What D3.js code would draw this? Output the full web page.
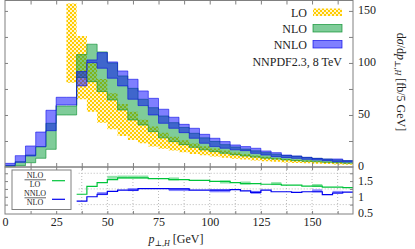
<!DOCTYPE html>
<html>
<head>
<meta charset="utf-8">
<script src="https://cdn.jsdelivr.net/npm/d3@7"></script>
<style>
  body { margin: 0; background: #fff; }
  svg { display: block; font-family: "Liberation Serif", "DejaVu Serif", serif; }
</style>
</head>
<body>
<svg id="chart" width="415" height="249"></svg>
<script>
// DATA: 5 GeV bins, lower edge of each bin
var binWidth = 5;
var binLo = [0, 5, 10, 15, 20, 25, 30, 35, 40, 45, 50, 55, 60, 65, 70, 75, 80,
             85, 90, 95, 100, 105, 110, 115, 120, 125, 130, 135, 140, 145, 150, 155, 160, 165];

// LO band (fb / 5 GeV), starts at 30 GeV
var loLow  = [null, null, null, null, null, null,
              81, 65, 53, 42.6, 36.2, 29.8, 26, 22.8, 19.8, 17.6, 15.8, 14.2, 12.6, 11.2,
              10, 9, 8, 7.1, 6.3, 5.6, 5, 4.4, 3.9, 3.5, 3.1, 2.8, 2.5, 2.2];
var loHigh = [null, null, null, null, null, null,
              157, 126, 100, 84.6, 70.9, 60.6, 53, 45.5, 39, 33, 29, 25.8, 22.6, 20,
              17.8, 15.8, 14, 12.4, 11, 9.8, 8.7, 7.8, 7, 6.3, 5.6, 5, 4.5, 4.1];

// NLO band
var nloLow  = [0.3, 1.3, 4.1, 8.4, 17, 50, 50, 86, 82, 72.5,
               64.4, 54.8, 45.2, 40.4, 34, 28, 24.4, 21.5, 18.9, 16.5,
               14.8, 13.2, 11.8, 10.6, 9.5, 8.5, 7.6, 6.8, 6.1, 5.5,
               5, 4.5, 4.1, 3.7];
var nloHigh = [1.5, 5.1, 11.5, 19.5, 42, 58.6, 58.6, 108, 118, 110.6,
               100, 87.5, 75.6, 65.1, 57, 49, 42.6, 38, 32.4, 28,
               24.5, 21.5, 19.2, 17.2, 15.5, 13.8, 12.3, 11, 10.3, 9.2,
               8.3, 7.5, 6.8, 6.1];

// NNLO band
var nnloLow  = [1.5, 4.5, 10.6, 19.5, 34.9, 59.6, 59.6, 77.9, 100.3, 94.9,
                85.3, 77.9, 65.1, 59, 50, 42, 37.2, 33, 27.6, 22.8,
                19.6, 18, 16.5, 15.7, 13.1, 11.5, 9.9, 9, 8.3, 7.4,
                6.7, 6.1, 5.1, 4.8];
var nnloHigh = [3.5, 10.9, 20.2, 33.6, 54.5, 67, 67, 91.7, 102.9, 109.9,
                101, 92.3, 84.3, 73.1, 66, 55.5, 47.8, 41, 37.2, 31.4,
                27.6, 24.4, 21.2, 19.6, 18, 15.4, 13.8, 11.5, 10.6, 9.3,
                8.3, 7.7, 7.7, 6.1];

// ratios (lower panel), from 35 GeV on
var ratioNloLo   = [null, null, null, null, null, null, null,
                    1.08, 1.33, 1.45, 1.55, 1.60, 1.60, 1.60, 1.58, 1.58, 1.55,
                    1.55, 1.52, 1.52, 1.49, 1.49, 1.45, 1.42, 1.42, 1.40, 1.40,
                    1.37, 1.37, 1.34, 1.34, 1.31, 1.31, 1.29];
var ratioNnloNlo = [null, null, null, null, null, null, null,
                    0.86, 1.0, 1.08, 1.17, 1.21, 1.21, 1.26, 1.26, 1.26, 1.25,
                    1.25, 1.21, 1.21, 1.21, 1.21, 1.23, 1.19, 1.14, 1.21, 1.16,
                    1.16, 1.14, 1.16, 1.16, 1.07, 1.12, 1.15];
// lighter shadow of the ratio lines, only in a few bins
var ratioNloLoLight   = [null, null, null, null, null, null, null,
                         null, null, null, 1.62, 1.63, 1.63, 1.63, null, null, 1.57,
                         null, null, null, null, 1.47, null, 1.44, null, null, 1.42,
                         null, null, null, 1.36, null, null, null];
var ratioNnloNloLight = [null, null, null, null, null, null, null,
                         null, null, 1.10, null, null, 1.23, null, null, null, 1.23,
                         1.23, null, null, 1.19, 1.19, null, null, 1.14, null, null,
                         null, null, null, 1.19, null, 1.14, null];

// tick labels
var xTickLabels = [0, 25, 50, 75, 100, 125, 150];
var xTickMarks = [12.5, 25, 37.5, 50, 62.5, 75, 87.5, 100, 112.5, 125, 137.5, 150, 162.5];
var yTickLabels = [0, 50, 100, 150];
var yTickMarks = [25, 50, 75, 100, 125, 150];
var rTickLabels = [0.5, 1, 1.5];
var rTickMarks = [0.75, 1, 1.25, 1.5, 1.75];
var rGrid = [0.75, 1.25, 1.75];
var xGrid = [37.5, 50, 62.5, 75, 87.5, 100, 112.5, 125, 137.5, 150, 162.5];


/*=======================================
*  scales
*=======================================*/
var svg = d3.select('#chart');
var gray = '#808080';

var x = d3.scaleLinear().domain([0, 170]).range([5, 353]);
var y = d3.scaleLinear().domain([0, 160]).range([167, 0.5]);
var yr = d3.scaleLinear().domain([0.45, 1.95]).range([214, 167]);

var defs = svg.append('defs');

// crosshatch dots for LO
var pat = defs.append('pattern').attr('id', 'hatch')
  .attr('patternUnits', 'userSpaceOnUse').attr('width', 4).attr('height', 4);
pat.append('rect').attr('width', 4).attr('height', 4).attr('fill', '#ffcc00');
pat.append('rect').attr('x', 0.1).attr('y', 0.1).attr('width', 1.8).attr('height', 1.8).attr('fill', '#fff');
pat.append('rect').attr('x', 2.1).attr('y', 2.1).attr('width', 1.8).attr('height', 1.8).attr('fill', '#fff');

defs.append('clipPath').attr('id', 'clipMain').append('rect')
  .attr('x', x(0)).attr('y', y(160)).attr('width', x(170) - x(0)).attr('height', y(0) - y(160));


// turn bin arrays into step rows (last bin repeated at the right edge)
function rows(lo, hi) {
  var out = [];
  binLo.forEach(function(b, i) {
    if (lo[i] == null) return;
    out.push({ x: b, lo: lo[i], hi: hi ? hi[i] : lo[i] });
  });
  var last = out[out.length - 1];
  out.push({ x: last.x + binWidth, lo: last.lo, hi: last.hi });
  return out;
}


/*=======================================
*  main panel: bands
*=======================================*/
var main = svg.append('g').attr('clip-path', 'url(#clipMain)');

var area = d3.area()
  .x(function(d) { return x(d.x); })
  .y0(function(d) { return y(d.lo); })
  .y1(function(d) { return y(d.hi); })
  .curve(d3.curveStepAfter);

var edgeHi = d3.line().x(function(d) { return x(d.x); }).y(function(d) { return y(d.hi); }).curve(d3.curveStepAfter);
var edgeLo = d3.line().x(function(d) { return x(d.x); }).y(function(d) { return y(d.lo); }).curve(d3.curveStepAfter);

var bands = [
  { data: rows(loLow, loHigh), fill: 'url(#hatch)', edge: null },
  { data: rows(nloLow, nloHigh), fill: 'rgba(0,153,51,0.5)', edge: 'rgba(0,140,40,0.75)' },
  { data: rows(nnloLow, nnloHigh), fill: 'rgba(0,0,255,0.5)', edge: 'rgba(0,0,230,0.7)' }
];

bands.forEach(function(b) {
  main.append('path').attr('d', area(b.data)).attr('fill', b.fill);
  if (b.edge) {
    main.append('path').attr('d', edgeHi(b.data)).attr('fill', 'none').attr('stroke', b.edge).attr('stroke-width', 0.8);
    main.append('path').attr('d', edgeLo(b.data)).attr('fill', 'none').attr('stroke', b.edge).attr('stroke-width', 0.8);
  }
});


/*=======================================
*  lower panel: ratios
*=======================================*/
var low = svg.append('g');

// dotted grid
rGrid.forEach(function(v) {
  low.append('line').attr('x1', x(36)).attr('x2', x(170)).attr('y1', yr(v)).attr('y2', yr(v))
    .attr('stroke', '#aaa').attr('stroke-width', 0.8).attr('stroke-dasharray', '1,2');
});
xGrid.forEach(function(v) {
  low.append('line').attr('x1', x(v)).attr('x2', x(v)).attr('y1', yr(1.95)).attr('y2', yr(0.45))
    .attr('stroke', '#aaa').attr('stroke-width', 0.8).attr('stroke-dasharray', '1,2');
});

var rLine = d3.line().x(function(d) { return x(d.x); }).y(function(d) { return yr(d.lo); }).curve(d3.curveStepAfter);

function lightSegs(arr, color) {
  arr.forEach(function(v, i) {
    if (v == null) return;
    low.append('line').attr('x1', x(binLo[i])).attr('x2', x(binLo[i] + binWidth))
      .attr('y1', yr(v)).attr('y2', yr(v)).attr('stroke', color).attr('stroke-width', 3);
  });
}
lightSegs(ratioNloLoLight, '#8fe3a8');
lightSegs(ratioNnloNloLight, '#8888ff');

low.append('path').attr('d', rLine(rows(ratioNloLo))).attr('fill', 'none').attr('stroke', '#00c43a').attr('stroke-width', 1.2);
low.append('path').attr('d', rLine(rows(ratioNnloNlo))).attr('fill', 'none').attr('stroke', '#0000ee').attr('stroke-width', 1.2);


/*=======================================
*  frames, ticks and labels
*=======================================*/
function frame(y0, y1) {
  svg.append('rect').attr('x', x(0)).attr('y', y0).attr('width', x(170) - x(0)).attr('height', y1 - y0)
    .attr('fill', 'none').attr('stroke', gray).attr('stroke-width', 1);
}
frame(y(160), y(0));
frame(yr(1.95), yr(0.45));

function ticks(axis, transform) {
  var g = svg.append('g').attr('transform', transform).call(axis);
  g.select('.domain').remove();
  g.selectAll('line').attr('stroke', gray);
  return g;
}

// x ticks, inward on both panels
ticks(d3.axisBottom(x).tickValues(xTickMarks).tickSize(-4).tickFormat(''), 'translate(0,' + y(0) + ')');
ticks(d3.axisTop(x).tickValues(xTickMarks).tickSize(-4).tickFormat(''), 'translate(0,' + y(160) + ')');
ticks(d3.axisTop(x).tickValues(xTickMarks).tickSize(-3).tickFormat(''), 'translate(0,' + yr(1.95) + ')');
ticks(d3.axisBottom(x).tickValues(xTickMarks).tickSize(-3).tickFormat(''), 'translate(0,' + yr(0.45) + ')');

// y ticks
ticks(d3.axisLeft(y).tickValues(yTickMarks).tickSize(-3).tickFormat(''), 'translate(' + x(0) + ',0)');
ticks(d3.axisRight(y).tickValues(yTickMarks).tickSize(-4).tickFormat(''), 'translate(' + x(170) + ',0)');
ticks(d3.axisLeft(yr).tickValues(rTickMarks).tickSize(-3).tickFormat(''), 'translate(' + x(0) + ',0)');
ticks(d3.axisRight(yr).tickValues(rTickMarks).tickSize(-3).tickFormat(''), 'translate(' + x(170) + ',0)');

function labels(axis, transform) {
  var g = svg.append('g').attr('transform', transform).call(axis);
  g.select('.domain').remove();
  g.selectAll('line').remove();
  g.selectAll('text').attr('font-family', '"Liberation Serif", serif').attr('font-size', 12).attr('fill', '#222');
  return g;
}
labels(d3.axisBottom(x).tickValues(xTickLabels).tickSize(0).tickPadding(3), 'translate(0,' + yr(0.45) + ')');
labels(d3.axisRight(y).tickValues(yTickLabels).tickSize(0).tickPadding(5), 'translate(' + x(170) + ',-1)');
labels(d3.axisRight(yr).tickValues(rTickLabels).tickSize(0).tickPadding(5).tickFormat(d3.format('')), 'translate(' + x(170) + ',0)');

// axis titles
var xt = svg.append('text').attr('x', 176).attr('y', 243).attr('text-anchor', 'middle')
  .attr('font-size', 12).attr('fill', '#222');
xt.append('tspan').attr('font-style', 'italic').text('p');
xt.append('tspan').attr('font-size', 8).attr('dy', 2.5).text('⊥,');
xt.append('tspan').attr('font-size', 8).attr('font-style', 'italic').text('H');
xt.append('tspan').attr('dy', -2.5).text(' [GeV]');

var yt = svg.append('text').attr('transform', 'translate(397,82) rotate(90)').attr('text-anchor', 'middle')
  .attr('font-size', 12).attr('fill', '#222');
yt.append('tspan').text('d');
yt.append('tspan').attr('font-style', 'italic').text('σ');
yt.append('tspan').text('/d');
yt.append('tspan').attr('font-style', 'italic').text('p');
yt.append('tspan').attr('font-size', 8).attr('dy', 2.5).text('⊥,');
yt.append('tspan').attr('font-size', 8).attr('font-style', 'italic').text('H');
yt.append('tspan').attr('dy', -2.5).text('   [fb/5 GeV]');


/*=======================================
*  legends
*=======================================*/
var leg = [
  { name: 'LO', fill: 'url(#hatch)', stroke: 'none', y: 8.5 },
  { name: 'NLO', fill: 'rgba(0,153,51,0.5)', stroke: 'rgba(0,140,40,0.8)', y: 24.5 },
  { name: 'NNLO', fill: 'rgba(0,0,255,0.5)', stroke: 'rgba(0,0,230,0.8)', y: 40.5 }
];
leg.forEach(function(l) {
  svg.append('rect').attr('x', 313).attr('y', l.y).attr('width', 29).attr('height', 7.5)
    .attr('fill', l.fill).attr('stroke', l.stroke).attr('stroke-width', 0.8);
  svg.append('text').attr('x', 307).attr('y', l.y + 8).attr('text-anchor', 'end')
    .attr('font-size', 12).attr('fill', '#222').text(l.name);
});
svg.append('text').attr('x', 342).attr('y', 66).attr('text-anchor', 'end')
  .attr('font-size', 12).attr('fill', '#222').text('NNPDF2.3, 8 TeV');

// ratio legend box
svg.append('rect').attr('x', 12).attr('y', 170).attr('width', 59).attr('height', 39.5)
  .attr('fill', '#fff').attr('stroke', gray).attr('stroke-width', 1);

var fracs = [
  { num: 'NLO', den: 'LO', y: 179.8, color: '#00c43a', ly: 180.7 },
  { num: 'NNLO', den: 'NLO', y: 197.8, color: '#0000ee', ly: 199.3 }
];
fracs.forEach(function(f) {
  svg.append('text').attr('x', 35).attr('y', f.y - 1.8).attr('text-anchor', 'middle')
    .attr('font-size', 8).attr('fill', '#222').text(f.num);
  svg.append('line').attr('x1', 24.5).attr('x2', 46).attr('y1', f.y).attr('y2', f.y)
    .attr('stroke', '#222').attr('stroke-width', 0.7);
  svg.append('text').attr('x', 35).attr('y', f.y + 7.4).attr('text-anchor', 'middle')
    .attr('font-size', 8).attr('fill', '#222').text(f.den);
  svg.append('line').attr('x1', 52).attr('x2', 65).attr('y1', f.ly).attr('y2', f.ly)
    .attr('stroke', f.color).attr('stroke-width', 1.2);
});
</script>
</body>
</html>
